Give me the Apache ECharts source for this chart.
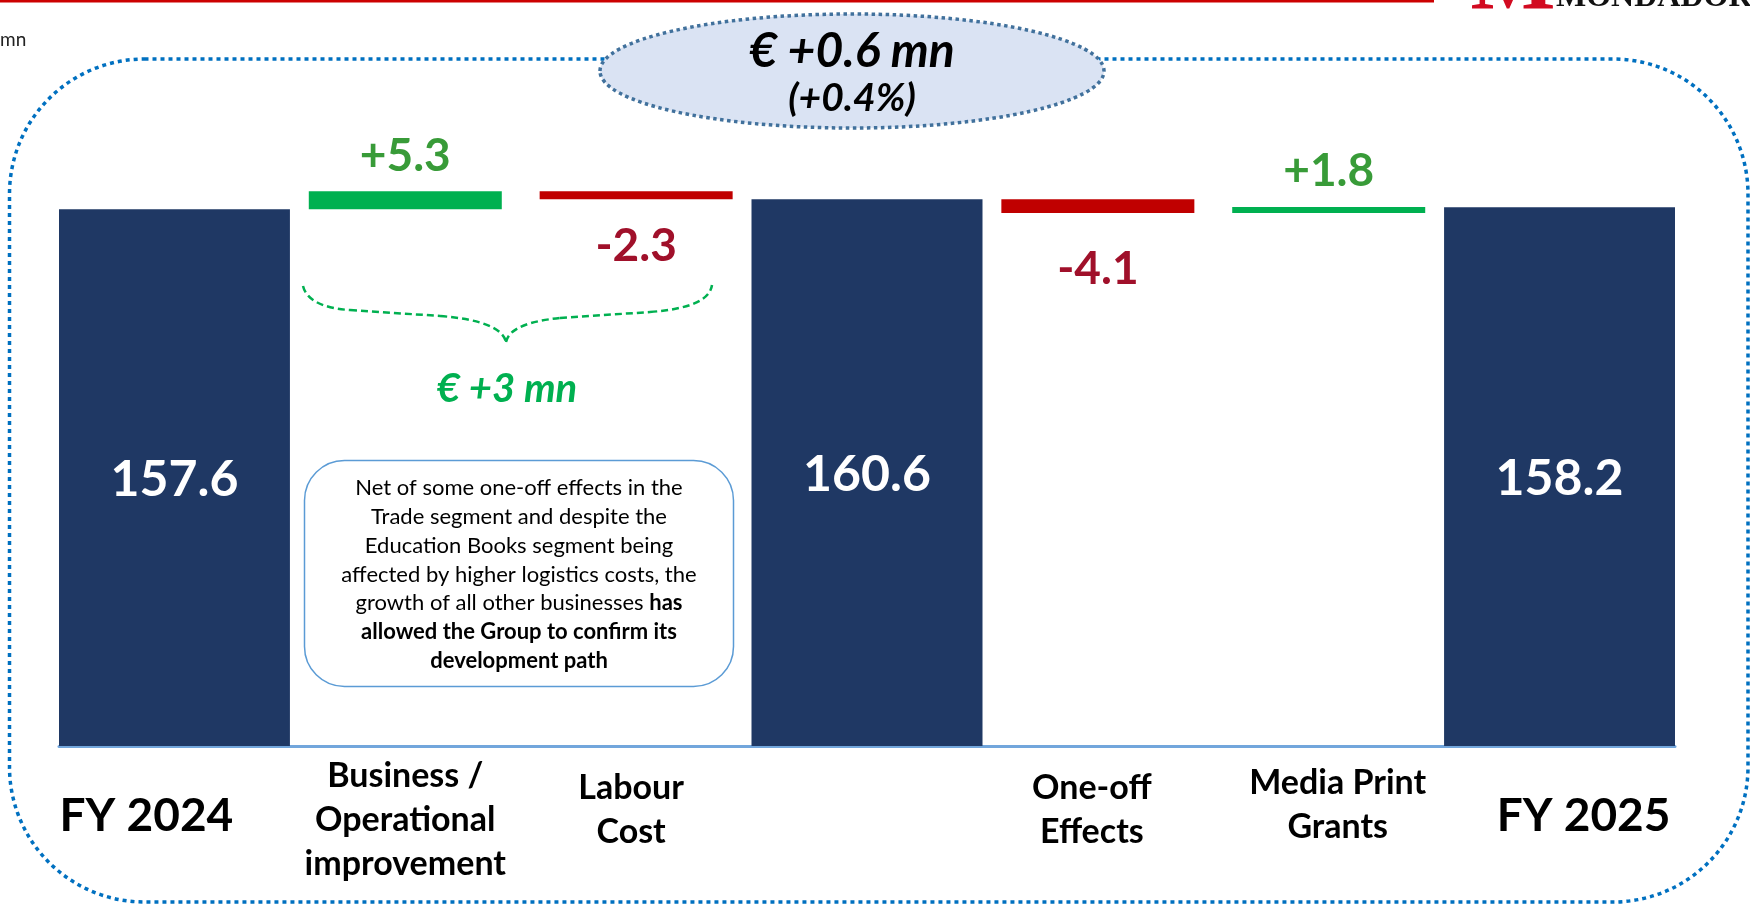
<!DOCTYPE html>
<html><head><meta charset="utf-8">
<script src="https://cdn.jsdelivr.net/npm/echarts@6/dist/echarts.min.js"></script>
<style>html,body{margin:0;padding:0;background:#fff}#c{width:1750px;height:905px}</style>
</head><body><div id="c"></div>
<script>
// ---------------- data ----------------
const categories = ['FY 2024', 'Business /\nOperational\nimprovement', 'Labour\nCost', '', 'One-off\nEffects', 'Media Print\nGrants', 'FY 2025'];
const totals = [157.6, null, null, 160.6, null, null, 158.2];
const deltas = [null, 5.3, -2.3, null, -4.1, 1.8, null];
const headline = '€ +0.6 mn';
const headlinePct = '(+0.4%)';
const subtotalNote = '€ +3 mn';
const unitLabel = 'mn';
const noteLines = [
  'Net of some one-off effects in the',
  'Trade segment and despite the',
  'Education Books segment being',
  'affected by higher logistics costs, the',
  'growth of all other businesses {b|has}',
  '{b|allowed the Group to confirm its}',
  '{b|development path}'
];

// ---------------- styles ----------------
const FONT = 'Lato, "Open Sans", sans-serif';
const NAVY = '#1f3864';
const GREEN_BAR = '#00b050', RED_BAR = '#c00000';
const GREEN_TXT = '#389b38', RED_TXT = '#a0102a';
const deltaLabelGap = [0, 12, 24, 0, 33, 13, 0];

// waterfall construction from the data arrays
const baseData = [], deltaData = [], totalData = [];
let run = 0;
for (let i = 0; i < categories.length; i++) {
  if (totals[i] != null) {
    run = totals[i];
    totalData.push(totals[i]);
    baseData.push('-'); deltaData.push('-');
  } else {
    totalData.push('-');
    const d = deltas[i];
    const next = Math.round((run + d) * 10) / 10;
    baseData.push(Math.min(run, next));
    const up = d > 0;
    deltaData.push({
      value: Math.abs(d),
      itemStyle: { color: up ? GREEN_BAR : RED_BAR },
      label: { position: up ? 'top' : 'bottom', distance: deltaLabelGap[i], color: up ? GREEN_TXT : RED_TXT }
    });
    run = next;
  }
}

// axis label layout (vertical spacer + horizontal shift per category)
const labelKeys = ['fyL', 'bus', 'lab', 'bus', 'one', 'med', 'fyR'];
const labelSpacer = [0, 0, 11, 0, 11, 7, 0];

const catStyle = (pad) => ({ fontFamily: FONT, fontSize: 34, fontWeight: 'bold', color: '#000', lineHeight: 44, padding: pad });

const braceStyle = { fill: 'none', stroke: GREEN_BAR, lineWidth: 2.5, lineDash: [7, 4] };
const txt = (x, y, text, extra) => ({ type: 'text', x, y, z: 7, style: Object.assign({ text, fontFamily: FONT, fill: '#000', align: 'center', textAlign: 'center', verticalAlign: 'middle', textVerticalAlign: 'middle' }, extra) });

const chart = echarts.init(document.getElementById('c'), null, { renderer: 'canvas' });
chart.setOption({
  animation: false,
  backgroundColor: '#fff',
  grid: { left: 59, right: 75, top: 65, bottom: 159, containLabel: false },
  xAxis: [{
    type: 'category', data: categories, offset: 1.5,
    axisLine: { show: true, lineStyle: { color: '#72a6dc', width: 3 } },
    axisTick: { show: false },
    axisLabel: {
      interval: 0, margin: 6.5,
      formatter: (val, idx) => {
        const lines = String(val).split('\n').filter(s => s.length);
        if (!lines.length) return '';
        const key = labelKeys[idx];
        let s = lines.map(l => '{' + key + '|' + l + '}').join('\n');
        if (labelSpacer[idx]) s = '{sp' + labelSpacer[idx] + '| }\n' + s;
        return s;
      },
      rich: {
        fyL: { fontFamily: FONT, fontSize: 46, fontWeight: 'bold', color: '#000', lineHeight: 125, padding: [0, 56, 0, 0] },
        fyR: { fontFamily: FONT, fontSize: 46, fontWeight: 'bold', color: '#000', lineHeight: 125, padding: [0, 0, 0, 48] },
        bus: catStyle([0, 0, 0, 0]),
        lab: catStyle([0, 10, 0, 0]),
        one: catStyle([0, 12, 0, 0]),
        med: catStyle([0, 0, 0, 18]),
        sp11: { fontSize: 1, lineHeight: 12 },
        sp7: { fontSize: 1, lineHeight: 7 }
      }
    }
  }, {
    type: 'category', data: categories, show: false
  }],
  yAxis: { type: 'value', min: 0, max: 200, show: false, splitLine: { show: false } },
  series: [
    {
      name: 'base', type: 'bar', stack: 'wf', xAxisIndex: 0, barWidth: 193,
      data: baseData, itemStyle: { color: 'transparent' }, silent: true
    },
    {
      name: 'delta', type: 'bar', stack: 'wf', xAxisIndex: 0, barWidth: 193,
      data: deltaData,
      label: {
        show: true, fontFamily: FONT, fontSize: 46, fontWeight: 'bold', lineHeight: 46,
        formatter: p => { const d = deltas[p.dataIndex]; return (d > 0 ? '+' : '') + d.toFixed(1); }
      }
    },
    {
      name: 'total', type: 'bar', xAxisIndex: 1, barWidth: 231,
      data: totalData, itemStyle: { color: NAVY },
      label: {
        show: true, position: 'inside', offset: [0, 2], color: '#fff',
        fontFamily: FONT, fontSize: 50, fontWeight: 'bold',
        formatter: p => p.value.toFixed(1)
      }
    }
  ],
  graphic: [
    // top red rule
    { type: 'rect', shape: { x: 0, y: 0, width: 1434, height: 2.5 }, style: { fill: '#cc0000' }, z: 10 },
    // logo (cut by the top edge)
    txt(1513, -14, 'M', { fontFamily: '"Liberation Serif", serif', fontSize: 90, fontWeight: 'bold', fill: '#d20a20' }),
    txt(1556, -2, 'MONDADORI', { fontFamily: '"Liberation Serif", serif', fontSize: 32, fontWeight: 'bold', fill: '#111', align: 'left', textAlign: 'left' }),
    // unit
    txt(0, 40, unitLabel, { fontSize: 19, fill: '#222', align: 'left', textAlign: 'left' }),
    // dotted frame
    { type: 'rect', z: 5, shape: { x: 9.5, y: 59, width: 1738.5, height: 843, r: 135 }, style: { fill: 'none', stroke: '#0070c0', lineWidth: 3.5, lineDash: [4, 4] } },
    // headline ellipse
    { type: 'ellipse', z: 6, shape: { cx: 852, cy: 71, rx: 252, ry: 57 }, style: { fill: '#dae3f3', stroke: '#41719c', lineWidth: 3.5, lineDash: [3.5, 3.5] } },
    txt(852, 52, headline, { fontSize: 48, fontWeight: 'bold', fontStyle: 'italic' }),
    txt(852, 98, headlinePct, { fontSize: 39, fontWeight: 'bold', fontStyle: 'italic' }),
    // brace
    { type: 'bezierCurve', z: 6, shape: { x1: 303, y1: 286, cpx1: 307, cpy1: 303, cpx2: 330, cpy2: 309, x2: 350, y2: 310 }, style: braceStyle },
    { type: 'line', z: 6, shape: { x1: 350, y1: 310, x2: 440, y2: 316 }, style: braceStyle },
    { type: 'bezierCurve', z: 6, shape: { x1: 440, y1: 316, cpx1: 480, cpy1: 319, cpx2: 503, cpy2: 328, x2: 506, y2: 342 }, style: braceStyle },
    { type: 'bezierCurve', z: 6, shape: { x1: 506, y1: 342, cpx1: 509, cpy1: 328, cpx2: 530, cpy2: 321, x2: 560, y2: 318 }, style: braceStyle },
    { type: 'line', z: 6, shape: { x1: 560, y1: 318, x2: 650, y2: 312 }, style: braceStyle },
    { type: 'bezierCurve', z: 6, shape: { x1: 650, y1: 312, cpx1: 690, cpy1: 309, cpx2: 710, cpy2: 300, x2: 712, y2: 285 }, style: braceStyle },
    txt(507, 389, subtotalNote, { fontSize: 40, fontWeight: 'bold', fontStyle: 'italic', fill: GREEN_BAR }),
    // note box
    { type: 'rect', z: 6, shape: { x: 304.5, y: 460.5, width: 429, height: 226, r: 40 }, style: { fill: '#fff', stroke: '#5b9bd5', lineWidth: 1.5 } },
    txt(519, 474, noteLines.join('\n'), {
      fontSize: 22, lineHeight: 28.7, verticalAlign: 'top', textVerticalAlign: 'top',
      rich: { b: { fontFamily: FONT, fontSize: 22, fontWeight: 'bold', fill: '#000', lineHeight: 28.7 } }
    })
  ]
});
</script></body></html>
